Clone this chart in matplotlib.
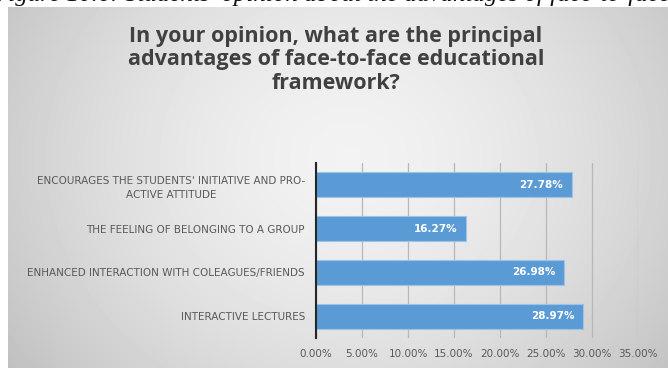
import numpy as np
import matplotlib.pyplot as plt

categories = ['INTERACTIVE LECTURES',
              'ENHANCED INTERACTION WITH COLEAGUES/FRIENDS',
              'THE FEELING OF BELONGING TO A GROUP',
              "ENCOURAGES THE STUDENTS' INITIATIVE AND PRO-\nACTIVE ATTITUDE"]
values = [28.97, 26.98, 16.27, 27.78]
xticks = [0, 5, 10, 15, 20, 25, 30, 35]

title = ('In your opinion, what are the principal\n'
         'advantages of face-to-face educational\n'
         'framework?')
caption = "Figure 10.6: Students' opinion about the advantages of face-to-face educational"

fig = plt.figure(figsize=(6.68, 3.68), dpi=100)
fig.patch.set_facecolor('white')

# grey slide background, lighter in the middle
bg = fig.add_axes([8 / 668, 0, 660 / 668, 361 / 368])
yy, xx = np.mgrid[0:361, 0:660]
r = np.sqrt(((xx - 340) / 380.0) ** 2 + ((yy - 150) / 330.0) ** 2)
shade = np.clip(0.95 - 0.17 * r ** 1.6, 0.75, 0.95)
bg.imshow(shade, cmap='gray', vmin=0, vmax=1, aspect='auto',
          extent=[0, 1, 0, 1], interpolation='bilinear')
bg.set_axis_off()

# caption of the page, only its lower edge shows above the slide
fig.text(-0.01, 1 - 0.5 / 368, caption, family='Liberation Serif', style='italic',
         fontsize=18, color='#111111', va='baseline', ha='left', zorder=0)

fig.text(0.503, 1 - 60 / 368, title, ha='center', va='center', fontsize=15.5,
         fontweight='bold', color='#404040', family='Open Sans',
         linespacing=1.16)

ax = fig.add_axes([316 / 668, 30 / 368, 322 / 668, 175 / 368])
ax.patch.set_alpha(0)
y = np.arange(len(categories))
bars = ax.barh(y, values, height=0.57, color='#5b9bd5', edgecolor='#9dc3e6',
               linewidth=0.8, zorder=3)
for b, v in zip(bars, values):
    ax.text(v - 0.9, b.get_y() + b.get_height() / 2, f'{v:.2f}%',
            ha='right', va='center', color='white', fontsize=7.5,
            fontweight='bold', zorder=4)

ax.set_xlim(0, 35)
ax.set_ylim(-0.5, 3.5)
ax.set_xticks(xticks)
ax.set_xticklabels([f'{t:.2f}%' for t in xticks], fontsize=7.5, color='#595959')
ax.set_yticks(y)
ax.set_yticklabels(categories, fontsize=7.5, color='#595959',
                   linespacing=1.5, multialignment='center')
ax.tick_params(length=0, pad=8)
ax.grid(axis='x', color='#b8b8b8', linewidth=0.9, zorder=0)
for s in ['top', 'right', 'bottom']:
    ax.spines[s].set_visible(False)
ax.spines['left'].set_color('#262626')
ax.spines['left'].set_linewidth(1.5)
ax.spines['left'].set_zorder(5)

fig.savefig('out.png', dpi=100)
